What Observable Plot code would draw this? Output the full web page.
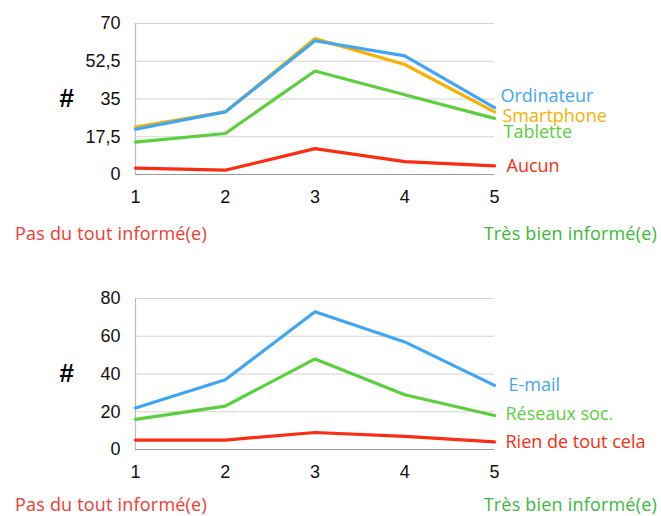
<!DOCTYPE html>
<html>
<head>
<meta charset="utf-8">
<script src="https://cdn.jsdelivr.net/npm/d3@7"></script>
<script src="https://cdn.jsdelivr.net/npm/@observablehq/plot@0.6"></script>
<style>
  html, body { margin: 0; padding: 0; background: #fff; }
  #wrap { position: relative; width: 661px; height: 516px; overflow: hidden; }
  .chart { position: absolute; left: 0; }
  .row { position: absolute; left: 0; width: 661px; height: 20px; font-family: "Open Sans", "Noto Sans", sans-serif; font-size: 18px; line-height: 20px; letter-spacing: 0.2px; }
  .row .lo { position: absolute; left: 15px; color: #f23a32; }
  .row .hi { position: absolute; right: 4px; color: #3cb93a; }
</style>
</head>
<body>
<div id="wrap"></div>
<script>
// ---- data ----
const levels = [1, 2, 3, 4, 5];
const ordinateur = [21, 29, 62, 55, 31];
const smartphone = [22, 29, 63, 51, 29];
const tablette = [15, 19, 48, 37, 26];
const aucun = [3, 2, 12, 6, 4];
const email = [22, 37, 73, 57, 34];
const reseaux = [16, 23, 48, 29, 18];
const rien = [5, 5, 9, 7, 4];
const topTicks = [0, 17.5, 35, 52.5, 70];
const bottomTicks = [0, 20, 40, 60, 80];
const lowLabel = "Pas du tout informé(e)";
const highLabel = "Très bien informé(e)";

// ---- styles ----
const colors = {
  "Ordinateur": "#3fa6f5", "Smartphone": "#f7b000", "Tablette": "#5ccf3e", "Aucun": "#fa2c14",
  "E-mail": "#3fa6f5", "Réseaux soc.": "#5ccf3e", "Rien de tout cela": "#fa2c14"
};
const labelShift = {
  "Ordinateur": {dx: 6, dy: -11}, "Smartphone": {dx: 8, dy: 4}, "Tablette": {dx: 9, dy: 14}, "Aucun": {dx: 12, dy: 0},
  "E-mail": {dx: 14, dy: 0}, "Réseaux soc.": {dx: 11, dy: -1}, "Rien de tout cela": {dx: 11, dy: 0}
};

function rows(name, values) { return levels.map((x, i) => ({series: name, x, y: values[i]})); }

function chart(seriesList, ticks, ymax) {
  const marks = [
    Plot.gridY(ticks, {stroke: "#d4d4d4", strokeOpacity: 1, strokeWidth: 1.2}),
    Plot.ruleX([1], {y1: 0, y2: ymax, stroke: "#bdbdbd", strokeWidth: 1.2}),
    Plot.ruleY([0], {stroke: "#9a9a9a", strokeWidth: 1.2}),
    Plot.axisY({ticks, tickSize: 0, tickPadding: 15, tickFormat: d => String(d).replace(".", ","), label: null, fontFamily: "Liberation Sans, Arial, sans-serif"}),
    Plot.axisX({ticks: levels, tickSize: 0, tickPadding: 16, tickFormat: d => String(d), label: null, fontFamily: "Liberation Sans, Arial, sans-serif"}),
    Plot.text(["#"], {frameAnchor: "left", dx: -76, fontSize: 26, fontWeight: "bold", fill: "#000", fontFamily: "Liberation Sans, Arial, sans-serif"})
  ];
  for (const [name, values] of seriesList) {
    const data = rows(name, values);
    marks.push(Plot.line(data, {x: "x", y: "y", stroke: colors[name], strokeWidth: 3.2, strokeLinejoin: "miter"}));
  }
  for (const [name, values] of seriesList) {
    const last = rows(name, values).slice(-1);
    marks.push(Plot.text(last, {x: "x", y: "y", text: () => name, fill: colors[name], textAnchor: "start",
      dx: labelShift[name].dx, dy: labelShift[name].dy, fontSize: 18, fontFamily: "Open Sans, Noto Sans, sans-serif"}));
  }
  return Plot.plot({
    width: 661, height: 212,
    marginTop: 23, marginBottom: 38, marginLeft: 135, marginRight: 167,
    x: {domain: [1, 5]},
    y: {domain: [0, ymax]},
    style: {fontSize: "18px", fontFamily: "Liberation Sans, Arial, sans-serif", color: "#111", background: "transparent", overflow: "visible"},
    marks
  });
}

const wrap = document.getElementById("wrap");

const topChart = chart([["Smartphone", smartphone], ["Ordinateur", ordinateur], ["Tablette", tablette], ["Aucun", aucun]], topTicks, 70);
topChart.classList.add("chart"); topChart.style.top = "0px";
wrap.appendChild(topChart);

function labelRow(topPx) {
  const d = document.createElement("div");
  d.className = "row"; d.style.top = topPx + "px";
  d.innerHTML = `<span class="lo"></span><span class="hi"></span>`;
  d.querySelector(".lo").textContent = lowLabel;
  d.querySelector(".hi").textContent = highLabel;
  wrap.appendChild(d);
}
labelRow(223);

const bottomChart = chart([["E-mail", email], ["Réseaux soc.", reseaux], ["Rien de tout cela", rien]], bottomTicks, 80);
bottomChart.classList.add("chart"); bottomChart.style.top = "275px";
wrap.appendChild(bottomChart);

labelRow(494);
</script>
</body>
</html>
